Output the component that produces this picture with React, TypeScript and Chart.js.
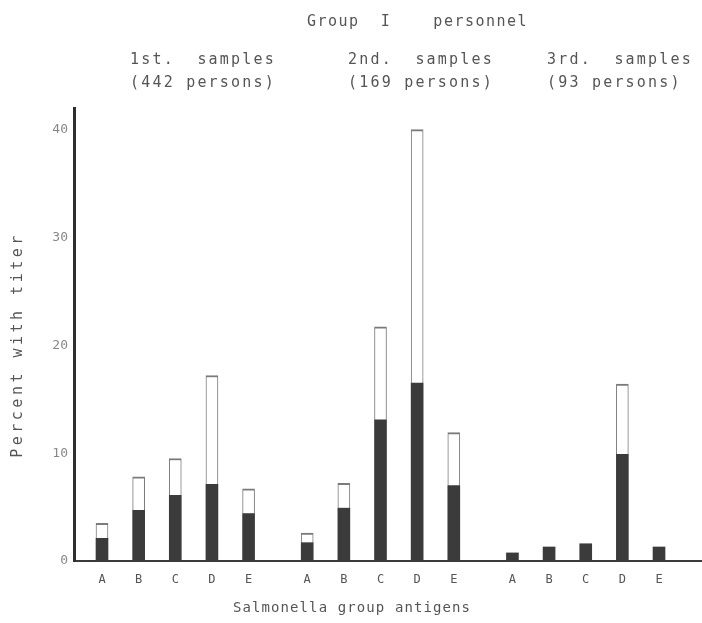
import React, { useEffect, useRef } from "react";
import { Chart, registerables } from "chart.js";

Chart.register(...registerables);

// ---- data ----
const ANTIGENS = ["A", "B", "C", "D", "E"];
const CHART_TITLE = "Group  I    personnel";
const SAMPLE_TITLES = ["1st.  samples", "2nd.  samples", "3rd.  samples"];
const SAMPLE_SIZES = ["(442 persons)", "(169 persons)", "(93 persons)"];
const X_TITLE = "Salmonella group antigens";
const Y_TITLE = "Percent with titer";

// dark (lower) segment and full bar height, per sample
const HIGH_TITER_1 = [2.1, 4.7, 6.1, 7.1, 4.4];
const ANY_TITER_1 = [3.5, 7.8, 9.5, 17.2, 6.7];
const HIGH_TITER_2 = [1.7, 4.9, 13.1, 16.5, 7.0];
const ANY_TITER_2 = [2.6, 7.2, 21.7, 40, 11.9];
const HIGH_TITER_3 = [0.75, 1.3, 1.6, 9.9, 1.3];
const ANY_TITER_3 = [0.75, 1.3, 1.6, 16.4, 1.3];

const Y_TICKS = [0, 10, 20, 30, 40];

// ---- layout constants ----
const W = 702;
const H = 623;
const GROUP_STEP = 5.6;
const HEADER_LEFT = [130, 348, 547];

const HIGH = [HIGH_TITER_1, HIGH_TITER_2, HIGH_TITER_3];
const ANY = [ANY_TITER_1, ANY_TITER_2, ANY_TITER_3];

const positions: number[] = [];
const tickLetters: string[] = [];
HIGH.forEach((_, g) =>
  ANTIGENS.forEach((a, i) => {
    positions.push(g * GROUP_STEP + i);
    tickLetters.push(a);
  })
);

const darkData: any[] = [];
const whiteData: any[] = [];
HIGH.forEach((arr, g) =>
  arr.forEach((v, i) => {
    const x = g * GROUP_STEP + i;
    darkData.push({ x, y: v });
    const tot = ANY[g][i];
    whiteData.push({ x, y: tot > v ? [v, tot] : null });
  })
);

const FONT = '"DejaVu Sans Mono", monospace';

const textPlugin = {
  id: "paperText",
  afterDraw(chart: any) {
    const ctx = chart.ctx as CanvasRenderingContext2D;
    ctx.save();
    ctx.fillStyle = "#555";
    ctx.textBaseline = "middle";
    ctx.textAlign = "left";
    ctx.font = `15px ${FONT}`;
    (ctx as any).letterSpacing = "1.5px";
    ctx.fillText(CHART_TITLE, 307, 22);
    (ctx as any).letterSpacing = "2.2px";
    SAMPLE_TITLES.forEach((t, g) => {
      ctx.fillText(t, HEADER_LEFT[g], 60);
      ctx.fillText(SAMPLE_SIZES[g], HEADER_LEFT[g], 83);
    });
    ctx.textAlign = "center";
    ctx.font = `14px ${FONT}`;
    (ctx as any).letterSpacing = "1.1px";
    ctx.fillText(X_TITLE, 352, 608);
    ctx.translate(18, 345);
    ctx.rotate(-Math.PI / 2);
    ctx.font = `15px ${FONT}`;
    (ctx as any).letterSpacing = "3.5px";
    ctx.fillText(Y_TITLE, 0, 0);
    ctx.restore();
  },
};

export default function App() {
  const ref = useRef<HTMLCanvasElement | null>(null);

  useEffect(() => {
    document.body.style.margin = "0";
    const canvas = ref.current;
    if (!canvas) return;
    const chart = new Chart(canvas, {
      type: "bar",
      data: {
        datasets: [
          {
            label: "high",
            data: darkData,
            backgroundColor: "#3b3b3b",
            borderWidth: 0,
            barThickness: 12,
            grouped: false,
            order: 1,
          } as any,
          {
            label: "any",
            data: whiteData,
            backgroundColor: "#ffffff",
            borderColor: "#7a7a7a",
            borderWidth: { top: 2, left: 1, right: 1, bottom: 0 },
            borderSkipped: false,
            barThickness: 12,
            grouped: false,
            order: 2,
          } as any,
        ],
      },
      options: {
        responsive: false,
        animation: false,
        events: [],
        layout: { padding: { top: 108, left: 0, right: 0, bottom: 0 } },
        plugins: {
          legend: { display: false },
          tooltip: { enabled: false },
          title: { display: false },
        },
        scales: {
          x: {
            type: "linear",
            offset: false,
            min: -0.764,
            max: 16.373,
            grid: { display: false, drawTicks: false },
            border: { display: true, color: "#3a3a3a", width: 2 },
            afterBuildTicks: (scale: any) => {
              scale.ticks = positions.map((v) => ({ value: v }));
            },
            afterFit: (scale: any) => {
              scale.height = 62;
            },
            ticks: {
              autoSkip: false,
              maxRotation: 0,
              padding: 12,
              color: "#555",
              font: { family: FONT, size: 12 },
              callback: (_v: any, i: number) => tickLetters[i],
            },
          },
          y: {
            type: "linear",
            min: 0,
            max: 42,
            grid: { display: false, drawTicks: false },
            border: { display: true, color: "#2e2e2e", width: 3 },
            afterBuildTicks: (scale: any) => {
              scale.ticks = Y_TICKS.map((v) => ({ value: v }));
            },
            afterFit: (scale: any) => {
              scale.width = 74;
            },
            ticks: {
              padding: 6,
              color: "#888",
              font: { family: FONT, size: 13 },
            },
          },
        },
      },
      plugins: [textPlugin],
    } as any);
    return () => chart.destroy();
  }, []);

  return (
    <div style={{ width: W, height: H, background: "#fff" }}>
      <canvas ref={ref} width={W} height={H} style={{ display: "block" }} />
    </div>
  );
}
